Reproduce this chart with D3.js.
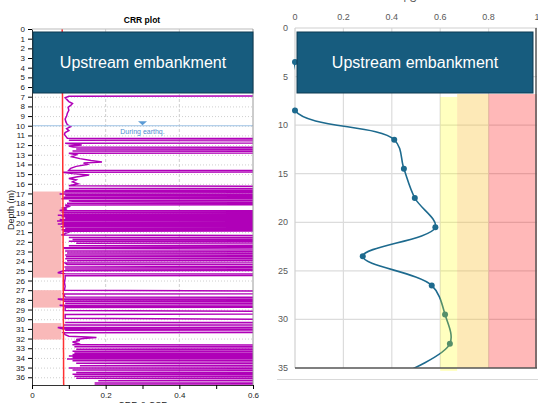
<!DOCTYPE html>
<html>
<head>
<meta charset="utf-8">
<script src="https://cdn.jsdelivr.net/npm/d3@7"></script>
<style>
  body { margin: 0; background: #fff; }
  text { font-family: "Liberation Sans", Arial, sans-serif; }
</style>
</head>
<body>
<div id="chart"></div>
<script>
// ---- data ----
// CRR profile of the CPT, [depth (m), CRR]; values above 0.6 run off the plot
var crrProfile = [
  [6.9, 2], [6.95, 0.1], [7.1, 0.09], [7.3, 0.095], [7.5, 0.1], [7.7, 0.11], [7.9, 0.105], [8.1, 0.098],
  [8.4, 0.1], [8.7, 0.096], [9.0, 0.094], [9.3, 0.09], [9.6, 0.092], [9.9, 0.096], [10.1, 0.105],
  [10.3, 0.094], [10.5, 0.1], [10.7, 0.09], [10.9, 0.088], [11.1, 0.092], [11.3, 0.096],
  [11.4, 2], [11.5, 0.1], [11.7, 2], [11.8, 0.09], [12.0, 0.135], [12.1, 0.1], [12.2, 0.112],
  [12.3, 2], [12.4, 0.12], [12.5, 2], [12.6, 0.11], [12.75, 2], [12.85, 0.1], [13.0, 0.12],
  [13.2, 0.108], [13.4, 0.13], [13.6, 0.16], [13.75, 0.19], [13.85, 0.14], [14.0, 0.15], [14.2, 0.12],
  [14.4, 0.105], [14.6, 0.1], [14.7, 2], [14.8, 0.082], [14.95, 0.11], [15.1, 0.155], [15.3, 0.12],
  [15.45, 0.1], [15.6, 0.12], [15.8, 0.11], [16.0, 0.125], [16.2, 0.1], [16.4, 2], [16.5, 0.1],
  [16.6, 2], [16.7, 0.09],
  [16.8, 2], [16.85, 0.085], [16.95, 2], [17.05, 0.075], [17.1, 2], [17.2, 0.09], [17.3, 2],
  [17.4, 0.085], [17.45, 2], [17.55, 0.08], [17.65, 2], [17.75, 0.1], [17.8, 0.11], [17.9, 2],
  [18.0, 0.095], [18.1, 2], [18.2, 0.09],
  [18.35, 0.1], [18.5, 0.085], [18.6, 0.095], [18.75, 0.075],
  [18.85, 2], [18.95, 0.08], [19.0, 2], [19.1, 0.085], [19.15, 2], [19.25, 0.07], [19.3, 2],
  [19.4, 0.08], [19.45, 2], [19.55, 0.09], [19.6, 2], [19.7, 0.075], [19.75, 2], [19.85, 0.068],
  [19.9, 2], [20.0, 0.08], [20.05, 2], [20.15, 0.07], [20.2, 2], [20.3, 0.085], [20.35, 2],
  [20.45, 0.078], [20.5, 2], [20.6, 0.09], [20.65, 2], [20.75, 0.08], [20.8, 2], [20.9, 0.085],
  [21.0, 0.1], [21.15, 0.09], [21.3, 0.08],
  [21.45, 2], [21.55, 0.1], [21.65, 2], [21.75, 0.11], [21.85, 2], [21.95, 0.1], [22.05, 2],
  [22.15, 0.12], [22.3, 2], [22.4, 0.1], [22.5, 2], [22.6, 0.085], [22.7, 0.09],
  [22.85, 2], [22.95, 0.09], [23.05, 2], [23.15, 0.095], [23.25, 2], [23.35, 0.09], [23.45, 2],
  [23.55, 0.092], [23.65, 2], [23.75, 0.09], [23.85, 2], [23.95, 0.095], [24.1, 2], [24.2, 0.09],
  [24.35, 0.095], [24.45, 2], [24.6, 0.088], [24.7, 2], [24.8, 0.09], [24.9, 2], [25.0, 0.085],
  [25.2, 0.07], [25.3, 0.09], [25.4, 2], [25.5, 0.09],
  [25.8, 0.09], [26.2, 0.088], [26.6, 0.09], [27.0, 0.088], [27.3, 2], [27.4, 0.085], [27.7, 0.09],
  [27.8, 2], [27.9, 0.07], [28.0, 0.08], [28.05, 2], [28.15, 0.085], [28.25, 2], [28.35, 0.09],
  [28.45, 2], [28.55, 0.075], [28.65, 0.09], [28.7, 2], [28.8, 0.09],
  [29.1, 0.09], [29.4, 2], [29.5, 0.09], [29.9, 0.09], [30.25, 2], [30.35, 0.09], [30.5, 2],
  [30.6, 0.085], [30.75, 2], [30.85, 0.07], [31.0, 0.085], [31.05, 2], [31.15, 0.09], [31.3, 2],
  [31.4, 0.085], [31.6, 0.09], [31.75, 0.1], [31.85, 0.15], [31.9, 0.175], [32.0, 0.14],
  [32.1, 0.12], [32.2, 0.13], [32.35, 0.11], [32.5, 0.125], [32.65, 0.11],
  [32.75, 2], [32.85, 0.115], [32.95, 2], [33.1, 0.12], [33.15, 2], [33.3, 0.11], [33.35, 2],
  [33.5, 0.115], [33.55, 2], [33.65, 0.11], [33.7, 2], [33.8, 0.1], [33.85, 2], [33.95, 0.11],
  [34.0, 2], [34.1, 0.095], [34.15, 2], [34.3, 0.11], [34.4, 2], [34.55, 0.12], [34.65, 2],
  [34.8, 0.13], [34.9, 2], [35.05, 0.1], [35.1, 2], [35.25, 0.11], [35.35, 2], [35.5, 0.12],
  [35.6, 2], [35.7, 0.11], [35.8, 2], [35.9, 0.115], [36.0, 2], [36.1, 0.12], [36.2, 2],
  [36.35, 0.18], [36.45, 2], [36.6, 0.17], [36.7, 2], [36.8, 0.17]
];

// CSR line, [depth, CSR]
var csrLine = [[0, 0.082], [36.8, 0.086]];

// liquefiable layers (shaded), [top, bottom]
var liqLayers = [[16.8, 25.7], [27.0, 28.8], [30.4, 32.1]];

var waterDepth = 10;
var waterLabel = "During earthq.";
var waterX = 0.3;

// right chart: factor of safety points
var fsDepth = [3.5, 8.5, 11.5, 14.5, 17.5, 20.5, 23.5, 26.5, 29.5, 32.5, 35.5];
var fsValue = [0, 0, 0.41, 0.45, 0.495, 0.58, 0.28, 0.565, 0.62, 0.64, 0.45];

// colour bands on the right chart
var bandFrom = [0.6, 0.67, 0.8];
var bandTo = [0.67, 0.8, 1.0];
var bandTop = [7.1, 6.8, 6.8];
var bandBottom = [35.3, 35, 35];
var bandColor = ["#ffff00", "#f8c030", "#ff0000"];
var bandOpacity = [0.25, 0.35, 0.28];

var leftXTicks = [0, 0.2, 0.4, 0.6];
var rightXTicks = [0, 0.2, 0.4, 0.6, 0.8, 1];
var rightYTicks = [0, 5, 10, 15, 20, 25, 30, 35];
var boxLabel = "Upstream embankment";

// ---- svg ----
var W = 538, H = 403;
var svg = d3.select("#chart").append("svg")
  .attr("width", W).attr("height", H);

svg.append("rect").attr("width", W).attr("height", H).attr("fill", "#fff");

// ================= left chart =================
var xL = d3.scaleLinear().domain([0, 0.6]).range([32, 253]);
var yL = d3.scaleLinear().domain([0, 36.8]).range([29, 385]);

var left = svg.append("g");

// title
left.append("text")
  .attr("x", 142).attr("y", 23)
  .attr("text-anchor", "middle")
  .attr("font-size", 8.5).attr("font-weight", "bold")
  .text("CRR plot");

// grid
left.selectAll(".hgrid")
  .data(d3.range(1, 37))
  .enter().append("line")
    .attr("x1", xL(0)).attr("x2", xL(0.6))
    .attr("y1", function(d) { return yL(d) + 0.5 })
    .attr("y2", function(d) { return yL(d) + 0.5 })
    .attr("stroke", "#cfcfcf").attr("stroke-dasharray", "1,2");

left.selectAll(".vgrid")
  .data([0.2, 0.4])
  .enter().append("line")
    .attr("x1", function(d) { return xL(d) }).attr("x2", function(d) { return xL(d) })
    .attr("y1", yL(0)).attr("y2", yL(36.8))
    .attr("stroke", "#cfcfcf").attr("stroke-dasharray", "3,2");

// liquefiable layers
left.selectAll(".liq")
  .data(liqLayers)
  .enter().append("rect")
    .attr("x", xL(0)).attr("width", xL(0.08) - xL(0))
    .attr("y", function(d) { return yL(d[0]) })
    .attr("height", function(d) { return yL(d[1]) - yL(d[0]) })
    .attr("fill", "#f9b9b9");

// clip for profile
svg.append("clipPath").attr("id", "clipL")
  .append("rect").attr("x", xL(0)).attr("y", yL(0))
  .attr("width", xL(0.6) - xL(0)).attr("height", yL(36.8) - yL(0));

left.append("path")
  .datum(crrProfile)
  .attr("clip-path", "url(#clipL)")
  .attr("fill", "none")
  .attr("stroke", "#b000b8")
  .attr("stroke-width", 1.5)
  .attr("d", d3.line()
    .x(function(d) { return xL(d[1]) })
    .y(function(d) { return yL(d[0]) }));

// water table
left.append("line")
  .attr("x1", xL(0)).attr("x2", xL(0.6))
  .attr("y1", yL(waterDepth)).attr("y2", yL(waterDepth))
  .attr("stroke", "#9cc2e5").attr("stroke-width", 1.2);

var wx = xL(waterX), wy = yL(waterDepth);
left.append("path")
  .attr("d", "M" + (wx - 4.5) + "," + (wy - 4.5) + "L" + (wx + 4.5) + "," + (wy - 4.5) + "L" + wx + "," + (wy - 0.5) + "Z")
  .attr("fill", "#5b9bd5");
left.append("text")
  .attr("x", wx).attr("y", wy + 8)
  .attr("text-anchor", "middle")
  .attr("font-size", 7).attr("fill", "#4f8fd0")
  .text(waterLabel);

// CSR
left.append("path")
  .datum(csrLine)
  .attr("fill", "none")
  .attr("stroke", "#ff3030")
  .attr("stroke-width", 1.5)
  .attr("d", d3.line()
    .x(function(d) { return xL(d[1]) })
    .y(function(d) { return yL(d[0]) }));

// axes
left.append("g")
  .attr("transform", "translate(" + xL(0) + ",0)")
  .call(d3.axisLeft(yL).tickValues(d3.range(0, 37)).tickFormat(d3.format("d")).tickSize(4).tickSizeOuter(0))
  .call(function(g) {
    g.selectAll("text").attr("font-size", 8).attr("fill", "#222").attr("font-family", "Liberation Sans");
    g.select(".domain").attr("stroke", "#333");
  });

left.append("g")
  .attr("transform", "translate(0," + yL(36.8) + ")")
  .call(d3.axisBottom(xL).tickValues(d3.range(0, 0.61, 0.1)).tickSize(4).tickSizeOuter(0)
    .tickFormat(function(d) { return leftXTicks.indexOf(+d.toFixed(1)) >= 0 ? d3.format("")(+d.toFixed(1)) : "" }))
  .call(function(g) {
    g.selectAll("text").attr("font-size", 8).attr("fill", "#222").attr("font-family", "Liberation Sans");
    g.select(".domain").attr("stroke", "#333");
  });

left.append("line")
  .attr("x1", xL(0)).attr("x2", xL(0.6)).attr("y1", yL(0)).attr("y2", yL(0))
  .attr("stroke", "#bbb");
left.append("line")
  .attr("x1", xL(0.6)).attr("x2", xL(0.6)).attr("y1", yL(0)).attr("y2", yL(36.8))
  .attr("stroke", "#999");

left.append("text")
  .attr("transform", "translate(14," + 210 + ") rotate(-90)")
  .attr("text-anchor", "middle")
  .attr("font-size", 9).attr("fill", "#222")
  .text("Depth (m)");

left.append("text")
  .attr("x", 143).attr("y", 408)
  .attr("text-anchor", "middle")
  .attr("font-size", 9).attr("fill", "#222")
  .text("CRR & CSR");

// ================= right chart =================
var xR = d3.scaleLinear().domain([0, 1]).range([295, 537]);
var yR = d3.scaleLinear().domain([0, 35]).range([28, 368]);

var right = svg.append("g");

right.append("text")
  .attr("x", 410).attr("y", 2)
  .attr("text-anchor", "middle")
  .attr("font-size", 10).attr("fill", "#595959")
  .text("FS");

// grid
right.selectAll(".vg")
  .data([0.2, 0.4, 0.6, 0.8])
  .enter().append("line")
    .attr("x1", function(d) { return xR(d) }).attr("x2", function(d) { return xR(d) })
    .attr("y1", yR(0)).attr("y2", yR(35))
    .attr("stroke", "#dcdcdc").attr("stroke-width", 1.2);
right.selectAll(".hg")
  .data([5, 10, 15, 20, 25, 30])
  .enter().append("line")
    .attr("x1", xR(0)).attr("x2", xR(1))
    .attr("y1", function(d) { return yR(d) }).attr("y2", function(d) { return yR(d) })
    .attr("stroke", "#dcdcdc").attr("stroke-width", 1.2);
right.append("line")
  .attr("x1", xR(0)).attr("x2", xR(1)).attr("y1", yR(0)).attr("y2", yR(0))
  .attr("stroke", "#d0d0d0").attr("stroke-width", 1.2);
right.append("line")
  .attr("x1", xR(0)).attr("x2", xR(0)).attr("y1", yR(0)).attr("y2", yR(35))
  .attr("stroke", "#d0d0d0").attr("stroke-width", 1.2);

// FS curve
var fsData = fsDepth.map(function(d, i) { return { depth: d, fs: fsValue[i] } });

svg.append("clipPath").attr("id", "clipR")
  .append("rect").attr("x", xR(0) - 1).attr("y", yR(0))
  .attr("width", xR(1) - xR(0) + 1).attr("height", yR(35) - yR(0));

right.append("path")
  .datum(fsData)
  .attr("clip-path", "url(#clipR)")
  .attr("fill", "none")
  .attr("stroke", "#1d6a8e")
  .attr("stroke-width", 1.6)
  .attr("d", d3.line()
    .curve(d3.curveCatmullRom.alpha(0.5))
    .x(function(d) { return xR(d.fs) })
    .y(function(d) { return yR(d.depth) }));

right.selectAll(".pt")
  .data(fsData.filter(function(d) { return d.depth <= 35 }))
  .enter().append("circle")
    .attr("cx", function(d) { return xR(d.fs) })
    .attr("cy", function(d) { return yR(d.depth) })
    .attr("r", 3)
    .attr("fill", "#1d6a8e");

// bands on top, see-through
right.selectAll(".band")
  .data(bandFrom)
  .enter().append("rect")
    .attr("x", function(d) { return xR(d) })
    .attr("width", function(d, i) { return xR(bandTo[i]) - xR(d) })
    .attr("y", function(d, i) { return yR(bandTop[i]) })
    .attr("height", function(d, i) { return yR(bandBottom[i]) - yR(bandTop[i]) })
    .attr("fill", function(d, i) { return bandColor[i] })
    .attr("fill-opacity", function(d, i) { return bandOpacity[i] });

// frame bottom / right
right.append("line")
  .attr("x1", xR(0)).attr("x2", xR(1)).attr("y1", yR(35)).attr("y2", yR(35))
  .attr("stroke", "#555").attr("stroke-width", 1.5);
right.append("line")
  .attr("x1", xR(1) - 1).attr("x2", xR(1) - 1).attr("y1", yR(0)).attr("y2", yR(35))
  .attr("stroke", "#555").attr("stroke-width", 1.5);

// tick labels
right.selectAll(".xl")
  .data(rightXTicks)
  .enter().append("text")
    .attr("x", function(d) { return xR(d) })
    .attr("y", 20)
    .attr("text-anchor", "middle")
    .attr("font-size", 9).attr("fill", "#595959")
    .text(function(d) { return d });
right.selectAll(".yl")
  .data(rightYTicks)
  .enter().append("text")
    .attr("x", 288)
    .attr("y", function(d) { return yR(d) + 3 })
    .attr("text-anchor", "end")
    .attr("font-size", 9).attr("fill", "#595959")
    .text(function(d) { return d });

right.append("line")
  .attr("x1", 277).attr("x2", 538).attr("y1", 379.5).attr("y2", 379.5)
  .attr("stroke", "#d9d9d9");

// ================= embankment boxes =================
var boxes = [[33, 253], [297, 533]];
svg.selectAll(".box")
  .data(boxes)
  .enter().append("rect")
    .attr("x", function(d) { return d[0] })
    .attr("y", 32)
    .attr("width", function(d) { return d[1] - d[0] })
    .attr("height", 61)
    .attr("fill", "#175c7e")
    .attr("stroke", "#0d3b52").attr("stroke-width", 1);
svg.selectAll(".boxt")
  .data(boxes)
  .enter().append("text")
    .attr("x", function(d) { return (d[0] + d[1]) / 2 })
    .attr("y", 68)
    .attr("text-anchor", "middle")
    .attr("font-family", "Noto Sans")
    .attr("font-size", 16)
    .attr("fill", "#fff")
    .text(boxLabel);
</script>
</body>
</html>
